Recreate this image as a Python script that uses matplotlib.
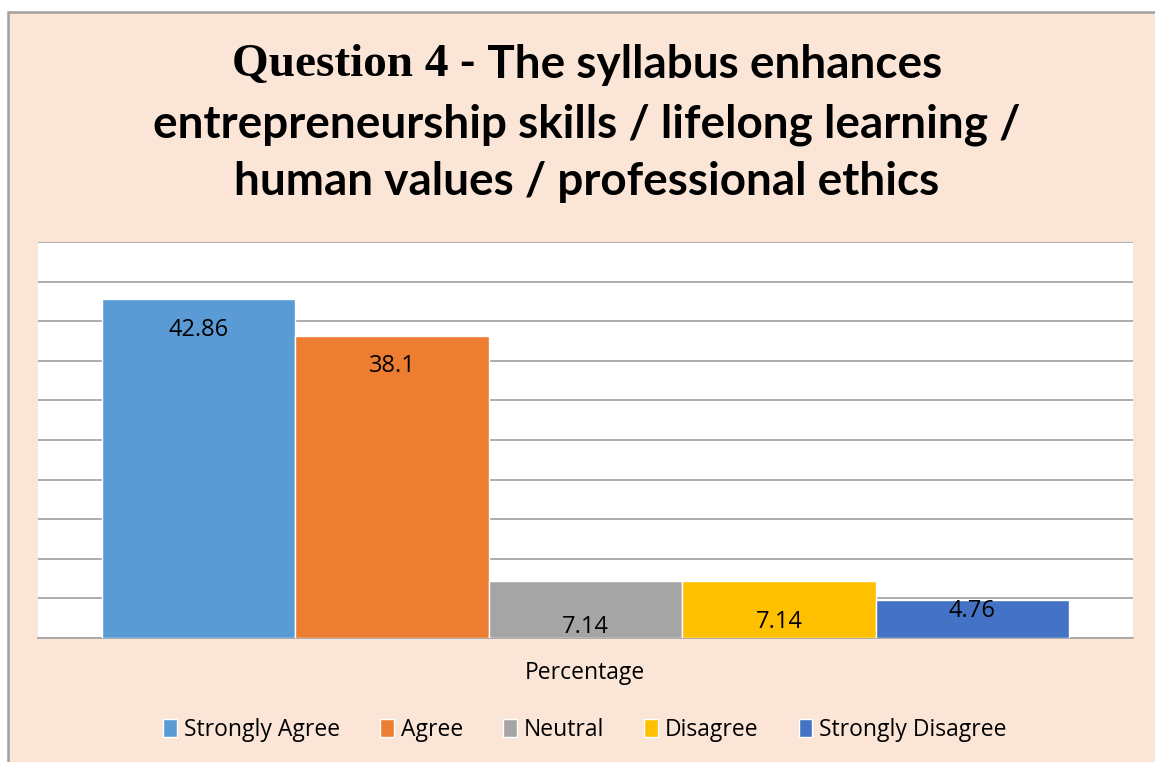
import matplotlib.pyplot as plt
from matplotlib.patches import Rectangle, Patch

# data
categories = ['Strongly Agree', 'Agree', 'Neutral', 'Disagree', 'Strongly Disagree']
values = [42.86, 38.1, 7.14, 7.14, 4.76]
value_labels = ['42.86', '38.1', '7.14', '7.14', '4.76']
colors = ['#5B9BD5', '#ED7D31', '#A5A5A5', '#FFC000', '#4472C4']
label_y = [38.9, 34.3, 1.4, 2.0, 3.4]  # where the data labels sit

bg = '#FBE5D6'
fig = plt.figure(figsize=(11.55, 7.62), dpi=100, facecolor='white')
W, H = 1155, 762

# peach chart area with grey border (cut at right/bottom edges)
frame = Rectangle((8 / W, -0.05), 1.2, 1.05 - 12 / H, transform=fig.transFigure,
                  facecolor=bg, edgecolor='#A0A0A0', linewidth=1.8)
frame.set_zorder(-10)
fig.add_artist(frame)

ax = fig.add_axes([38 / W, 1 - 638 / H, (1133 - 38) / W, (638 - 242) / H])
ax.set_facecolor('white')

x = list(range(len(values)))
ax.bar(x, values, width=1.0, color=colors, edgecolor='white', linewidth=1.0, zorder=3)
ax.set_xlim(-0.83, 4.83)
ax.set_ylim(0, 50)
ax.set_yticks(range(0, 51, 5))
ax.yaxis.grid(True, color='#A6A6A6', linewidth=1.3, zorder=0)
ax.tick_params(left=False, bottom=False, labelleft=False, labelbottom=False)
for s in ['left', 'right', 'top']:
    ax.spines[s].set_visible(False)
ax.spines['bottom'].set_color('#A6A6A6')
ax.spines['bottom'].set_linewidth(1.3)

for xi, ly, t in zip(x, label_y, value_labels):
    ax.text(xi, ly, t, ha='center', va='center', fontsize=17, family='Open Sans', zorder=4)

# title: first part serif, rest sans bold
sans = 'Lato'
tfs = 33
cx = 587 / W
fig.canvas.draw()
r = fig.canvas.get_renderer()
t1 = fig.text(0, 1 - 65 / H, 'Question 4', family='Liberation Serif', weight='bold',
              fontsize=34, va='center')
t2 = fig.text(0, 1 - 65 / H, ' - The syllabus enhances', family=sans, weight='bold',
              fontsize=tfs, va='center')
w1 = t1.get_window_extent(r).width
w2 = t2.get_window_extent(r).width
x0 = cx * W - (w1 + w2) / 2
t1.set_x(x0 / W)
t2.set_x((x0 + w1) / W)
fig.text(cx, 1 - 125 / H, 'entrepreneurship skills / lifelong learning /', family=sans,
         weight='bold', fontsize=tfs, ha='center', va='center')
fig.text(cx, 1 - 182 / H, 'human values / professional ethics', family=sans,
         weight='bold', fontsize=tfs, ha='center', va='center')

fig.text(585 / W, 1 - 673 / H, 'Percentage', fontsize=16.5, family='Open Sans',
         ha='center', va='center')

handles = [Patch(facecolor=c, edgecolor='white') for c in colors]
fig.legend(handles, categories, loc='center', bbox_to_anchor=(585 / W, 1 - 730 / H),
           ncol=5, frameon=False, prop={'family': 'Open Sans', 'size': 16.5},
           handlelength=0.6, handleheight=0.8, handletextpad=0.3, columnspacing=1.75)

fig.savefig('out.png', dpi=100, facecolor='white')
